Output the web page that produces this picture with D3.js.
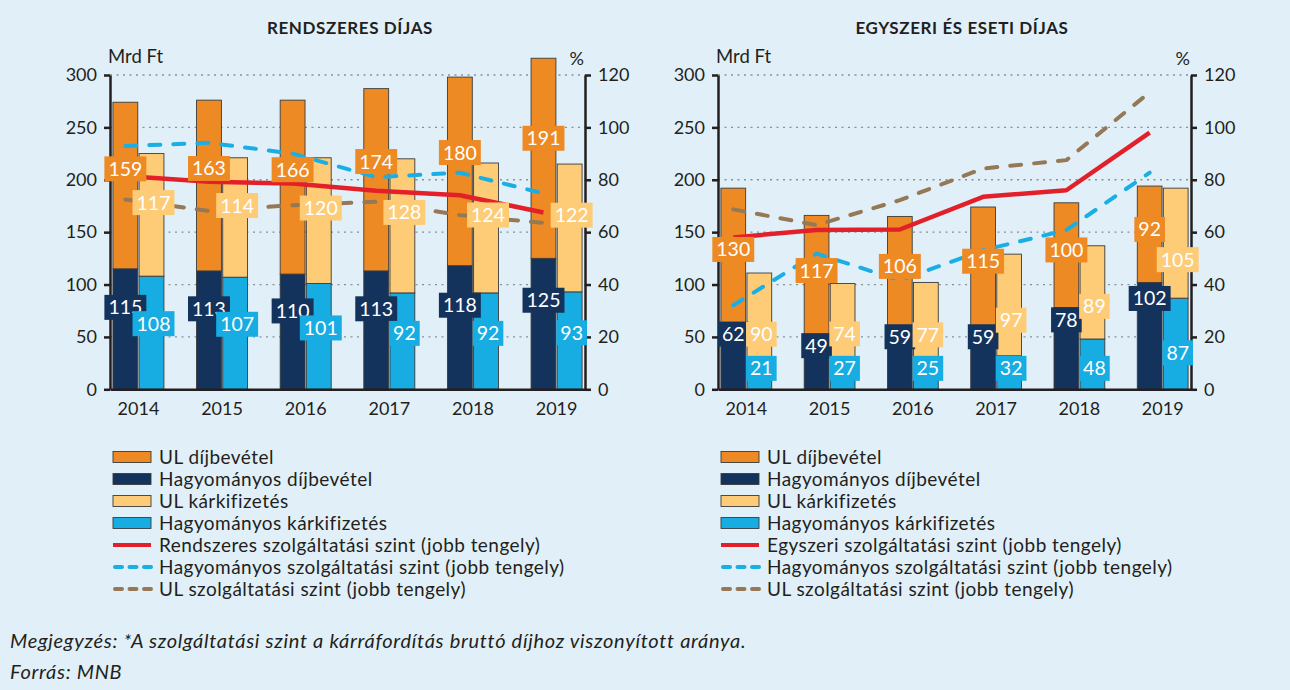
<!DOCTYPE html>
<html>
<head>
<meta charset="utf-8">
<script src="https://cdn.jsdelivr.net/npm/d3@7"></script>
<style>
  body { margin: 0; background: #e1f0f8; }
  svg { display: block; font-family: Lato, "Open Sans", sans-serif; }
</style>
</head>
<body>
<svg id="chart" width="1290" height="690"></svg>
<script>
// --- data (Mrd Ft, %) ---
const years = ["2014", "2015", "2016", "2017", "2018", "2019"];

// Rendszeres díjas
const rendUlPrem = [159, 163, 166, 174, 180, 191];
const rendHagyPrem = [115, 113, 110, 113, 118, 125];
const rendUlClaim = [117, 114, 120, 128, 124, 122];
const rendHagyClaim = [108, 107, 101, 92, 92, 93];
const rendTotalLevel = [81.4, 79.2, 78.6, 75.8, 74.1, 67.5];
const rendHagyLevel = [92.9, 94.1, 90.0, 81.0, 82.7, 74.8];
const rendUlLevel = [72.5, 68.1, 70.3, 71.6, 66.5, 63.5];

// Egyszeri és eseti díjas
const egyUlPrem = [130, 117, 106, 115, 100, 92];
const egyHagyPrem = [62, 49, 59, 59, 78, 102];
const egyUlClaim = [90, 74, 77, 97, 89, 105];
const egyHagyClaim = [21, 27, 25, 32, 48, 87];
const egyTotalLevel = [58.0, 60.8, 61.0, 73.5, 76.0, 98.0];
const egyHagyLevel = [32.1, 51.8, 41.6, 53.1, 60.8, 82.7];
const egyUlLevel = [68.7, 62.7, 72.2, 84.3, 87.5, 113.4];

const leftTicks = [0, 50, 100, 150, 200, 250, 300];
const rightTicks = [0, 20, 40, 60, 80, 100, 120];

const legendLeft = ["UL díjbevétel", "Hagyományos díjbevétel", "UL kárkifizetés", "Hagyományos kárkifizetés",
  "Rendszeres szolgáltatási szint (jobb tengely)", "Hagyományos szolgáltatási szint (jobb tengely)", "UL szolgáltatási szint (jobb tengely)"];
const legendRight = ["UL díjbevétel", "Hagyományos díjbevétel", "UL kárkifizetés", "Hagyományos kárkifizetés",
  "Egyszeri szolgáltatási szint (jobb tengely)", "Hagyományos szolgáltatási szint (jobb tengely)", "UL szolgáltatási szint (jobb tengely)"];

const C = {
  orange: "#ee8a24", navy: "#14335c", light: "#fecb77", blue: "#17ade3",
  red: "#e3202a", dashBlue: "#1aaee5", brown: "#957856", text: "#231f20"
};

const svg = d3.select("#chart");

function drawPanel(o) {
  const g = svg.append("g");
  const x = d3.scaleBand().domain(years).range([o.x0, o.x1]).paddingInner(0.39).paddingOuter(0.035);
  const xi = d3.scaleBand().domain(["prem", "claim"]).range([0, x.bandwidth()]).paddingInner(0.05);
  const y = d3.scaleLinear().domain([0, 300]).range([389.3, 75]);
  const y2 = d3.scaleLinear().domain([0, 120]).range([389.3, 75]);

  // grid
  g.append("g").selectAll("line").data(leftTicks.slice(1)).join("line")
    .attr("x1", o.x0).attr("x2", o.x1)
    .attr("y1", d => y(d)).attr("y2", d => y(d))
    .attr("stroke", "#8a8f94").attr("stroke-width", 1.3).attr("stroke-dasharray", "2,4.5");

  // stacked bars
  const stacks = [
    { key: "prem", parts: [{ v: o.hagyPrem, c: C.navy }, { v: o.ulPrem, c: C.orange }] },
    { key: "claim", parts: [{ v: o.hagyClaim, c: C.blue }, { v: o.ulClaim, c: C.light }] }
  ];
  stacks.forEach(s => {
    years.forEach((yr, i) => {
      let base = 0;
      s.parts.forEach(p => {
        const v = p.v[i];
        g.append("rect")
          .attr("x", x(yr) + xi(s.key)).attr("width", xi.bandwidth())
          .attr("y", y(base + v)).attr("height", y(base) - y(base + v))
          .attr("fill", p.c).attr("stroke", "#3b3b3b").attr("stroke-width", 0.9);
        base += v;
      });
    });
  });

  // lines on right axis
  const lx = yr => x(yr) + xi("prem") + xi.bandwidth() / 2;
  const line = d3.line().x((d, i) => lx(years[i])).y(d => y2(d));
  [
    { v: o.ulLevel, c: C.brown, dash: "11,13" },
    { v: o.hagyLevel, c: C.dashBlue, dash: "11,13" },
    { v: o.totalLevel, c: C.red, dash: null }
  ].forEach(s => {
    g.append("path").datum(s.v).attr("d", line)
      .attr("fill", "none").attr("stroke", s.c)
      .attr("stroke-width", s.dash ? 4 : 4.5)
      .attr("stroke-linecap", s.dash ? "round" : "butt")
      .attr("stroke-linejoin", "round")
      .attr("stroke-dasharray", s.dash);
  });

  // axes
  const axL = g.append("g").attr("transform", `translate(${o.x0},0)`)
    .call(d3.axisLeft(y).tickValues(leftTicks).tickSize(6).tickSizeOuter(0).tickPadding(7));
  const axR = g.append("g").attr("transform", `translate(${o.x1},0)`)
    .call(d3.axisRight(y2).tickValues(rightTicks).tickSize(6).tickSizeOuter(0).tickPadding(7));
  const axB = g.append("g").attr("transform", "translate(0,389.3)")
    .call(d3.axisBottom(x).tickSize(0).tickSizeOuter(0).tickPadding(13));
  [axL, axR, axB].forEach(a => {
    a.selectAll("path, line").attr("stroke", C.text).attr("stroke-width", 2.5);
    a.selectAll("text").attr("fill", C.text).attr("font-size", 18).attr("font-family", "Lato, sans-serif");
  });

  // data labels (drawn over lines and axes)
  const labelSets = [
    { v: o.hagyPrem, base: () => 0, key: "prem", bg: C.navy, f: o.fr[0], min: 0 },
    { v: o.ulPrem, base: i => o.hagyPrem[i], key: "prem", bg: C.orange, f: o.fr[1], min: 0 },
    { v: o.hagyClaim, base: () => 0, key: "claim", bg: C.blue, f: o.fr[2], min: o.minBlue },
    { v: o.ulClaim, base: i => o.hagyClaim[i], key: "claim", bg: C.light, f: o.fr[3], min: 0 }
  ];
  labelSets.forEach(ls => {
    years.forEach((yr, i) => {
      const val = Math.max(ls.base(i) + ls.v[i] * ls.f, ls.min);
      const cx = x(yr) + xi(ls.key) + xi.bandwidth() / 2 + (ls.key === "claim" ? 2 : 0);
      const cy = y(val);
      const lg = g.append("g");
      const r = lg.append("rect").attr("fill", ls.bg);
      const t = lg.append("text").attr("x", cx).attr("y", cy).attr("dy", "0.36em")
        .attr("text-anchor", "middle").attr("fill", "#fff").attr("font-size", 19.5)
        .text(ls.v[i]);
      const w = t.node().getComputedTextLength() + 8;
      r.attr("x", cx - w / 2).attr("y", cy - 12.5).attr("width", w).attr("height", 25);
    });
  });

  // unit captions and title
  g.append("text").attr("x", o.x0 - 2).attr("y", 63).attr("font-size", 18.5).attr("fill", C.text).text("Mrd Ft");
  g.append("text").attr("x", o.x1 - 1).attr("y", 65).attr("text-anchor", "end")
    .attr("font-size", 18).attr("fill", C.text).text("%");
  g.append("text").attr("x", o.titleX).attr("y", 34).attr("text-anchor", "middle")
    .attr("font-size", 17).attr("letter-spacing", 0.6).attr("font-weight", 700).attr("fill", C.text).text(o.title);

  // legend
  const lgd = g.append("g").attr("transform", `translate(${o.legendX},0)`);
  const swatches = [C.orange, C.navy, C.light, C.blue];
  o.legend.forEach((name, i) => {
    const cy = 457 + i * 22;
    if (i < 4) {
      lgd.append("rect").attr("x", 0).attr("y", cy - 5.5).attr("width", 38).attr("height", 11)
        .attr("fill", swatches[i]).attr("stroke", "#3b3b3b").attr("stroke-width", 0.9);
    } else {
      const spec = [{ c: C.red, d: null }, { c: C.dashBlue, d: "7,7.5" }, { c: C.brown, d: "7,7.5" }][i - 4];
      lgd.append("line").attr("x1", spec.d ? 2 : 0).attr("x2", 38).attr("y1", cy).attr("y2", cy)
        .attr("stroke", spec.c).attr("stroke-width", 4)
        .attr("stroke-linecap", spec.d ? "round" : "butt").attr("stroke-dasharray", spec.d);
    }
    lgd.append("text").attr("x", 46).attr("y", cy).attr("dy", "0.36em")
      .attr("font-size", 19).attr("letter-spacing", 0.45).attr("fill", C.text).text(name);
  });
}

drawPanel({
  title: "RENDSZERES DÍJAS", titleX: 350, x0: 110, x1: 585, legendX: 113, legend: legendLeft,
  ulPrem: rendUlPrem, hagyPrem: rendHagyPrem, ulClaim: rendUlClaim, hagyClaim: rendHagyClaim,
  totalLevel: rendTotalLevel, hagyLevel: rendHagyLevel, ulLevel: rendUlLevel,
  fr: [0.68, 0.6, 0.58, 0.6], minBlue: 0
});
drawPanel({
  title: "EGYSZERI ÉS ESETI DÍJAS", titleX: 962, x0: 718, x1: 1191, legendX: 721, legend: legendRight,
  ulPrem: egyUlPrem, hagyPrem: egyHagyPrem, ulClaim: egyUlClaim, hagyClaim: egyHagyClaim,
  totalLevel: egyTotalLevel, hagyLevel: egyHagyLevel, ulLevel: egyUlLevel,
  fr: [0.85, 0.55, 0.4, 0.35], minBlue: 20
});

// footnote
svg.append("text").attr("x", 10).attr("y", 648).attr("font-size", 20).attr("letter-spacing", 0.7)
  .attr("font-style", "italic").attr("fill", C.text)
  .text("Megjegyzés: *A szolgáltatási szint a kárráfordítás bruttó díjhoz viszonyított aránya.");
svg.append("text").attr("x", 10).attr("y", 679).attr("font-size", 20).attr("letter-spacing", 0.7)
  .attr("font-style", "italic").attr("fill", C.text).text("Forrás: MNB");
</script>
</body>
</html>
